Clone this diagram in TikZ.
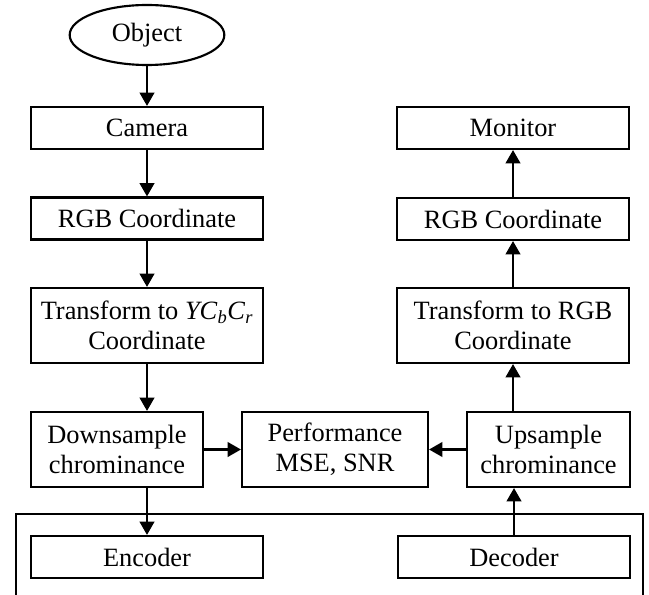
\documentclass[tikz,border=0pt]{standalone}
\usepackage{fontspec}
\setmainfont{Liberation Serif}
\usetikzlibrary{arrows.meta,shapes.geometric}

\begin{document}
\begin{tikzpicture}[
    x=0.75pt, y=-0.75pt,
    box/.style={draw, line width=1.6pt, inner sep=0pt, align=center,
        minimum width=174pt, minimum height=31.5pt,
        font=\fontsize{19.8}{22.5}\selectfont},
    tallbox/.style={box, minimum height=56.25pt},
    obj/.style={box, ellipse, minimum width=116pt, minimum height=45pt},
    flow/.style={-{Triangle[length=10pt,width=11pt]}, line width=1.6pt}
]
\useasboundingbox (0,0) rectangle (649,595);
% ---------------- capture side ----------------
\node[obj]  (object) at (147,35)    {Object};
\node[box]  (camera) at (147,128)   {Camera};
\node[box]  (rgbin)  at (147,218.5) {RGB Coordinate};
\node[tallbox] (toycc) at (147,325.5)
    {Transform to \textit{YC}\textsubscript{\textit{b}}\textit{C}\textsubscript{\textit{r}}\\Coordinate};
\node[tallbox, minimum width=129pt] (down) at (117,449.5) {Downsample\\chrominance};
% ---------------- comparison ----------------
\node[tallbox, minimum width=139.5pt] (perf) at (335,449.5) {Performance\\MSE, SNR};
% ---------------- display side ----------------
\node[tallbox, minimum width=122.25pt] (up) at (548.5,449.5) {Upsample\\chrominance};
\node[tallbox] (torgb)  at (513,325.5) {Transform to RGB\\Coordinate};
\node[box]  (rgbout)  at (513,219)  {RGB Coordinate};
\node[box]  (monitor) at (513,128)  {Monitor};
% ---------------- codec ----------------
\coordinate (cbl) at (16,598);
\coordinate (ctl) at (16,514);
\coordinate (ctr) at (643,514);
\coordinate (cbr) at (643,598);
\draw[line width=1.6pt] (cbl) -- (ctl) -- (ctr) -- (cbr);
\node[box] (encoder) at (147,557) {Encoder};
\node[box] (decoder) at (514,557) {Decoder};
% ---------------- connectors ----------------
\draw[flow] (object) -- (camera);
\draw[flow] (camera) -- (rgbin);
\draw[flow] (rgbin) -- (toycc);
\draw[flow] (toycc.south) -- (toycc.south |- down.north);
\draw[flow] (encoder.north |- down.south) -- (encoder.north);
\draw[flow] (down) -- (perf);
\draw[flow] (up) -- (perf);
\draw[flow] (decoder.north) -- (decoder.north |- up.south);
\draw[flow] (torgb.south |- up.north) -- (torgb.south);
\draw[flow] (torgb) -- (rgbout);
\draw[flow] (rgbout) -- (monitor);
\end{tikzpicture}
\end{document}
